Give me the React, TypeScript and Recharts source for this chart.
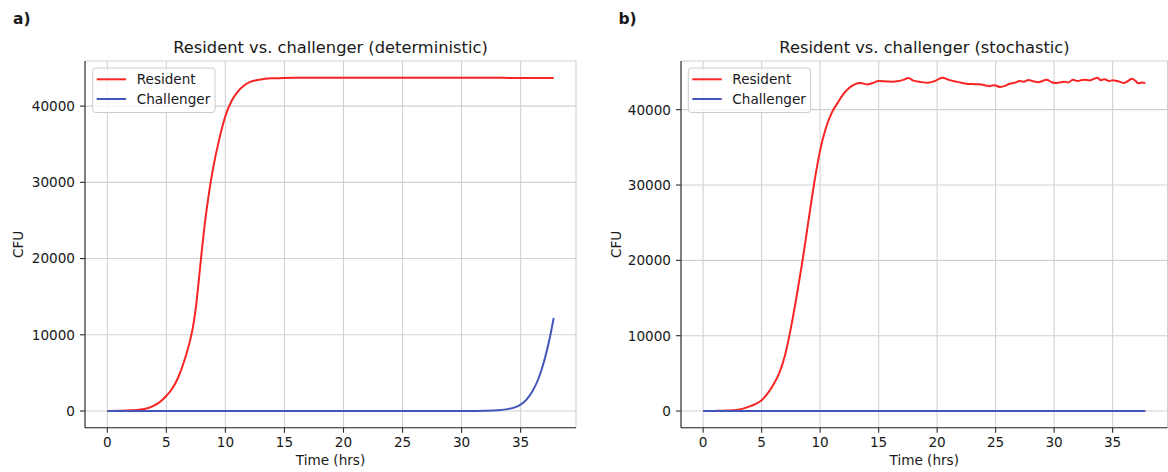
import React from 'react';
import { LineChart, Line, XAxis, YAxis, CartesianGrid } from 'recharts';

// ---------- data ----------
const detTime = [0, 1, 2, 3, 4, 4.5, 5, 5.5, 6, 6.5, 7, 7.25, 7.5, 7.75, 8, 8.25, 8.5, 8.75, 9, 9.5, 10, 10.5, 11, 11.5, 12, 13, 14, 15, 17, 20, 25, 30, 31, 32, 33, 34, 34.5, 35, 35.5, 36, 36.5, 37, 37.5, 37.8];
const detResident = [0, 30, 90, 220, 750, 1250, 2000, 2950, 4400, 6500, 9200, 11000, 13600, 17200, 21000, 24500, 27400, 30000, 32200, 35800, 38700, 40600, 41800, 42600, 43100, 43500, 43650, 43700, 43720, 43730, 43730, 43720, 43720, 43710, 43710, 43700, 43700, 43700, 43700, 43690, 43690, 43690, 43680, 43680];
const detChallenger = [0, 0, 0, 0, 0, 0, 0, 0, 0, 0, 0, 0, 0, 0, 0, 0, 0, 0, 0, 0, 0, 0, 0, 0, 0, 0, 0, 0, 0, 0, 0, 0, 15, 40, 100, 280, 480, 850, 1500, 2600, 4200, 6600, 9800, 12200];

const stoTime = [0, 1, 2, 3, 4, 4.5, 5, 5.5, 6, 6.5, 7, 7.5, 8, 8.5, 9, 9.5, 10, 10.5, 11, 11.5, 12, 12.5, 13, 13.45, 14, 14.5, 15, 15.7, 16.2, 16.7, 17.1, 17.55, 17.97, 18.5, 19.2, 19.8, 20.45, 21, 21.36, 22, 22.5, 23, 23.6, 24.2, 24.5, 24.8, 25, 25.4, 25.8, 26.1, 26.5, 26.8, 27, 27.4, 27.8, 28.2, 28.65, 29, 29.35, 29.8, 30.2, 30.6, 30.9, 31.2, 31.6, 32, 32.3, 32.6, 33, 33.3, 33.7, 34, 34.3, 34.7, 35, 35.4, 35.95, 36.3, 36.65, 37, 37.2, 37.5, 37.8];
const stoResident = [0, 20, 60, 180, 620, 950, 1420, 2300, 3500, 5000, 7400, 11000, 15300, 20000, 25200, 30300, 34600, 37600, 39600, 40900, 42100, 42900, 43400, 43550, 43350, 43550, 43800, 43750, 43720, 43800, 43950, 44200, 43850, 43700, 43560, 43800, 44250, 43950, 43800, 43600, 43450, 43400, 43360, 43190, 43120, 43250, 43200, 43010, 43150, 43380, 43550, 43650, 43800, 43720, 43950, 43780, 43650, 43800, 43980, 43650, 43540, 43650, 43700, 43600, 43980, 43800, 43900, 43980, 43880, 44020, 44250, 43900, 44050, 43800, 43900, 43800, 43540, 43800, 44100, 43750, 43500, 43600, 43540];
const stoChallenger = stoTime.map(() => 0);

const xTicks = [0, 5, 10, 15, 20, 25, 30, 35];
const yTicks = [0, 10000, 20000, 30000, 40000];
const titles = ['Resident vs. challenger (deterministic)', 'Resident vs. challenger (stochastic)'];
const panelLabels = ['a)', 'b)'];
const seriesNames = ['Resident', 'Challenger'];
const seriesColors = ['#f92424', '#4355b9'];
const xLabel = 'Time (hrs)';
const yLabel = 'CFU';

const FONT = '"DejaVu Sans", Verdana, sans-serif';
const TEXT = '#1a1a1a';
const FRAME = '#2b2b2b';
const GRID = '#d2d2d2';

const detRows = detTime.map((t, i) => ({ t, r: detResident[i], c: detChallenger[i] }));
const stoRows = stoTime.map((t, i) => ({ t, r: stoResident[i], c: stoChallenger[i] }));

type PanelProps = {
  rows: { t: number; r: number; c: number }[];
  width: number;
  marginLeft: number;
  marginRight: number;
  xDomain: [number, number];
  yDomain: [number, number];
  curve: 'monotone' | 'linear';
  labelOffset: number;
};

function Panel({ rows, width, marginLeft, marginRight, xDomain, yDomain, curve, labelOffset }: PanelProps) {
  const tickStyle = { fontFamily: FONT, fontSize: 13.6, fill: TEXT };
  return (
    <LineChart
      width={width}
      height={472}
      data={rows}
      margin={{ top: 61, right: marginRight, bottom: 4.3, left: marginLeft }}
      style={{ fontFamily: FONT }}
    >
      <CartesianGrid stroke={GRID} strokeWidth={1.1} />
      <XAxis
        dataKey="t"
        type="number"
        domain={xDomain}
        allowDataOverflow
        ticks={xTicks}
        height={40}
        tickSize={5}
        tickMargin={5}
        tick={tickStyle}
        tickLine={{ stroke: FRAME, strokeWidth: 1.1 }}
        axisLine={{ stroke: FRAME, strokeWidth: 1.1 }}
        label={{ value: xLabel, position: 'insideBottom', offset: 2.7, style: { fontFamily: FONT, fontSize: 13.6, fill: TEXT } }}
      />
      <YAxis
        type="number"
        domain={yDomain}
        allowDataOverflow
        ticks={yTicks}
        width={80}
        tickSize={5}
        tickMargin={5}
        tick={tickStyle}
        tickLine={{ stroke: FRAME, strokeWidth: 1.1 }}
        axisLine={{ stroke: FRAME, strokeWidth: 1.1 }}
        label={{ value: yLabel, angle: -90, position: 'insideLeft', offset: labelOffset, style: { textAnchor: 'middle', fontFamily: FONT, fontSize: 13.6, fill: TEXT } }}
      />
      <XAxis
        xAxisId="top"
        orientation="top"
        dataKey="t"
        type="number"
        domain={xDomain}
        allowDataOverflow
        height={0}
        tick={false}
        tickLine={false}
        axisLine={{ stroke: FRAME, strokeWidth: 1.1 }}
      />
      <YAxis
        yAxisId="right"
        orientation="right"
        type="number"
        domain={yDomain}
        allowDataOverflow
        width={0}
        tick={false}
        tickLine={false}
        axisLine={{ stroke: FRAME, strokeWidth: 1.1 }}
      />
      <Line dataKey="r" name={seriesNames[0]} type={curve} stroke={seriesColors[0]} strokeWidth={2} dot={false} isAnimationActive={false} />
      <Line dataKey="c" name={seriesNames[1]} type={curve} stroke={seriesColors[1]} strokeWidth={2} dot={false} isAnimationActive={false} />
    </LineChart>
  );
}

function Legend({ left }: { left: number }) {
  return (
    <g>
      <rect x={left} y={68} width={122.3} height={44.5} rx={3} ry={3} fill="#ffffff" fillOpacity={0.8} stroke="#cccccc" strokeWidth={1} />
      {seriesNames.map((n, i) => (
        <g key={n}>
          <line x1={left + 4} x2={left + 33.4} y1={79.3 + i * 19.7} y2={79.3 + i * 19.7} stroke={seriesColors[i]} strokeWidth={2} />
          <text x={left + 44} y={83.8 + i * 19.7} fontFamily={FONT} fontSize={13.6} fill={TEXT}>{n}</text>
        </g>
      ))}
    </g>
  );
}

export default function App() {
  return (
    <div style={{ position: 'absolute', left: 0, top: 0, width: 1168, height: 472, background: '#fff', overflow: 'hidden', fontFamily: FONT }}>
      <div style={{ position: 'absolute', left: 0, top: 0 }}>
        <Panel rows={detRows} width={600} marginLeft={5} marginRight={24} xDomain={[-1.89, 39.69]} yDomain={[-2187, 45917]} curve="monotone" labelOffset={13.5} />
      </div>
      <div style={{ position: 'absolute', left: 600, top: 0 }}>
        <Panel rows={stoRows} width={568} marginLeft={1} marginRight={0.5} xDomain={[-1.89, 39.69]} yDomain={[-2210, 46460]} curve="monotone" labelOffset={15} />
      </div>
      <svg width={1168} height={472} style={{ position: 'absolute', left: 0, top: 0, pointerEvents: 'none' }}>
        <text x={13} y={24} fontFamily={FONT} fontSize={15.5} fontWeight="bold" fill={TEXT}>{panelLabels[0]}</text>
        <text x={618.5} y={24} fontFamily={FONT} fontSize={15.5} fontWeight="bold" fill={TEXT}>{panelLabels[1]}</text>
        <text x={330.5} y={53} textAnchor="middle" fontFamily={FONT} fontSize={16.3} fill={TEXT}>{titles[0]}</text>
        <text x={924.5} y={53} textAnchor="middle" fontFamily={FONT} fontSize={16.3} fill={TEXT}>{titles[1]}</text>
        <Legend left={92.7} />
        <Legend left={688.3} />
      </svg>
    </div>
  );
}
